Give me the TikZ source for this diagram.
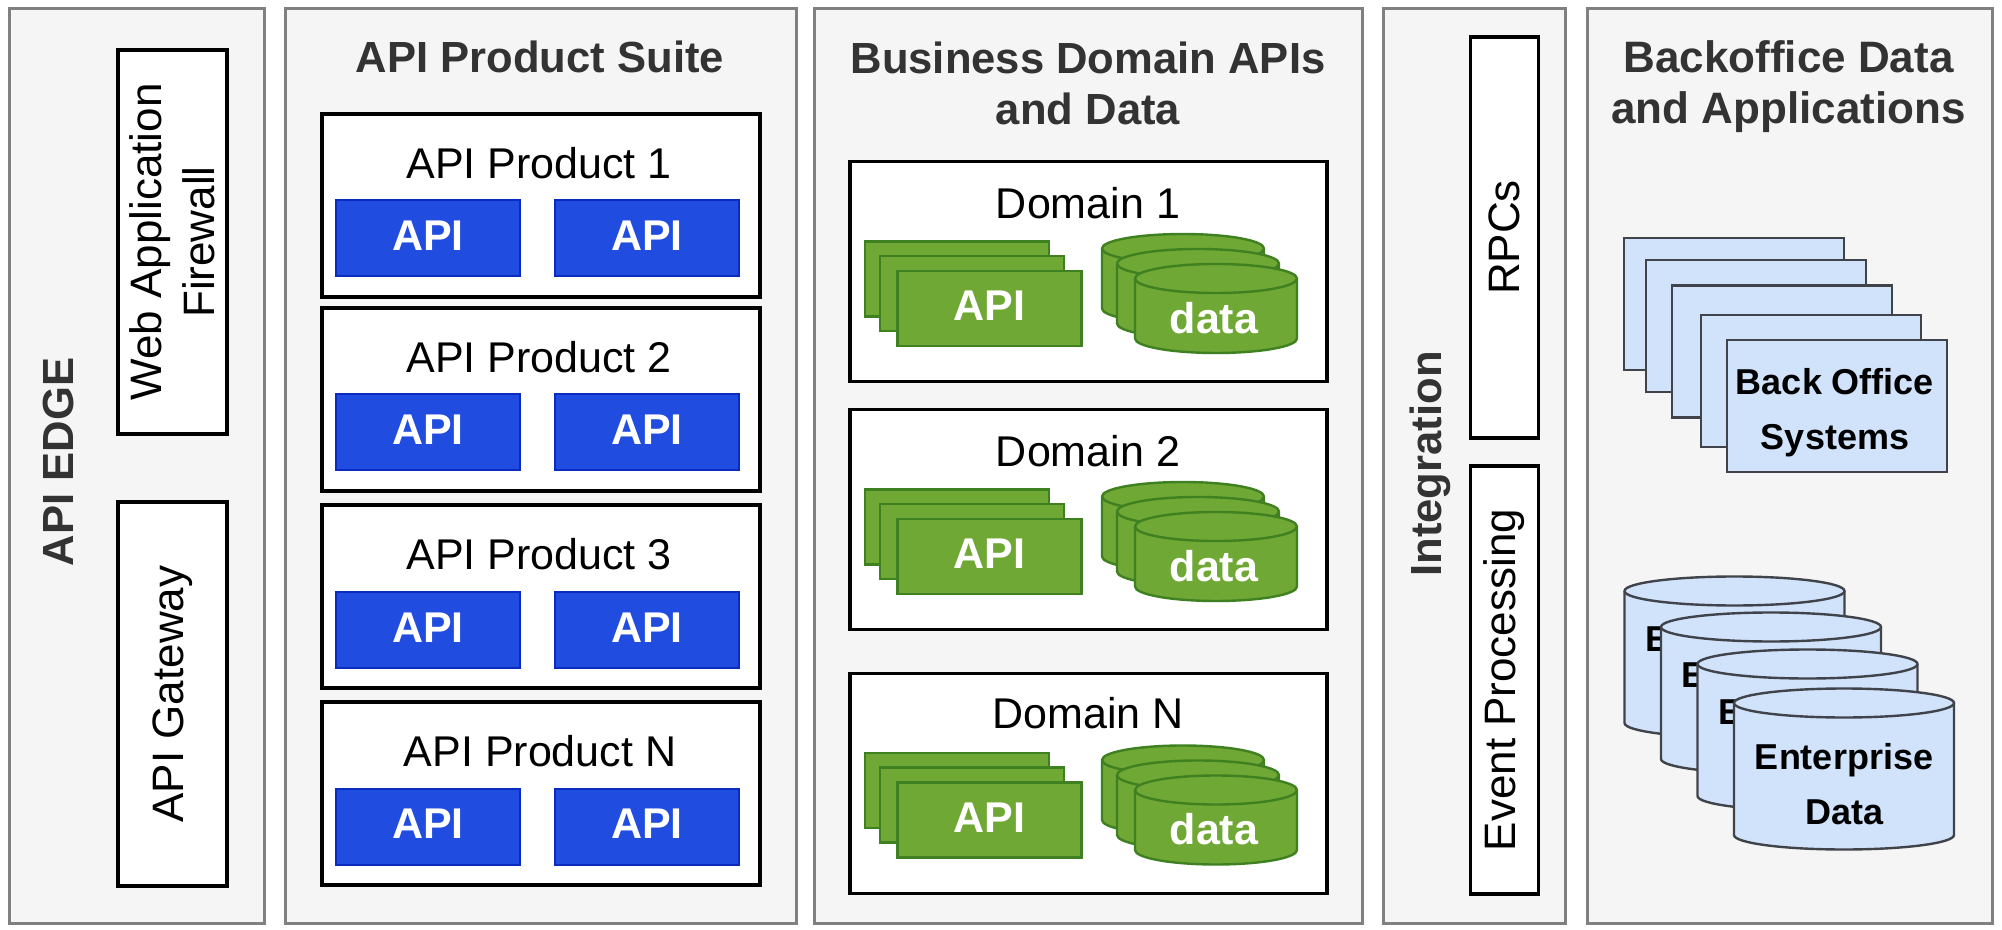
\documentclass[tikz,border=0pt]{standalone}
\usepackage{fontspec}
\setmainfont{Liberation Sans}
\definecolor{panelfill}{HTML}{F5F5F5}
\definecolor{panelline}{HTML}{808080}
\definecolor{titletext}{HTML}{333333}
\definecolor{apifill}{HTML}{204CE0}
\definecolor{apiline}{HTML}{0A2BC0}
\definecolor{greenfill}{HTML}{70A836}
\definecolor{greenline}{HTML}{3F8020}
\definecolor{backfill}{HTML}{D0E3FB}
\definecolor{backline}{HTML}{40444A}
% cylinder: name, position, size style, line style, x radius
\newcommand{\drum}[5]{%
  \node[#3] (#1) at (#2) {};
  \draw[#4] ([yshift=-7.25pt]#1.north west) -- ([yshift=7.25pt]#1.south west)
    arc[start angle=180,end angle=360,x radius=#5,y radius=7.25pt]
    -- ([yshift=-7.25pt]#1.north east)
    arc[start angle=0,end angle=180,x radius=#5,y radius=7.25pt] -- cycle;
  \draw[#4] ([yshift=-7.25pt]#1.north west)
    arc[start angle=180,end angle=360,x radius=#5,y radius=7.25pt];
}
\newcommand{\gdrum}[2]{\drum{#1}{#2}{gbox}{gdata}{40.5pt}}
\newcommand{\bdrum}[2]{\drum{#1}{#2}{bbox}{bdata}{55pt}}
\begin{document}
\begin{tikzpicture}[
        x=0.5pt,y=-0.5pt,
        every node/.style={inner sep=0pt,outer sep=0pt,font=\fontsize{21.5}{25.5}\selectfont},
        panel/.style={draw=panelline,fill=panelfill,line width=1.5pt,rectangle,minimum height=457pt},
        title/.style={text=titletext,font=\fontsize{21.8}{25.5}\selectfont\bfseries,align=center},
        norm/.style={draw=black,fill=white,line width=1.6pt,rectangle,align=center},
        side/.style={norm,rotate=90,font=\fontsize{22}{26.5}\selectfont},
        prod/.style={norm,minimum width=219pt,minimum height=91.5pt},
        dom/.style={norm,minimum width=238.5pt,minimum height=110pt},
        api/.style={draw=apiline,fill=apifill,line width=1pt,rectangle,minimum width=92pt,minimum height=38pt,text=white,text depth=2.5pt,font=\fontsize{21.5}{25.5}\selectfont\bfseries},
        gapi/.style={draw=greenline,fill=greenfill,line width=1.2pt,rectangle,minimum width=92pt,minimum height=37.5pt,text=white,text depth=2.5pt,font=\fontsize{21.5}{25.5}\selectfont\bfseries},
        gbox/.style={rectangle,minimum width=81pt,minimum height=44.5pt},
        gdata/.style={draw=greenline,fill=greenfill,line width=1.2pt},
        wtext/.style={text=white,font=\fontsize{21.5}{25.5}\selectfont\bfseries},
        bsys/.style={draw=backline,fill=backfill,line width=1.2pt,rectangle,minimum width=110pt,minimum height=66pt},
        bbox/.style={rectangle,minimum width=110pt,minimum height=80.5pt},
        bdata/.style={draw=backline,fill=backfill,line width=1.2pt},
        btext/.style={align=center,font=\fontsize{18}{27.5}\selectfont\bfseries}
      ]
      \useasboundingbox (0,0) rectangle (2002,930);
      % columns
      \node[panel,minimum width=127.5pt] (edge) at (136.5,466) {};
      \node[panel,minimum width=255.5pt] (suite) at (540.5,466) {};
      \node[panel,minimum width=274pt] (biz) at (1088,466) {};
      \node[panel,minimum width=91.25pt] (integ) at (1474.25,466) {};
      \node[panel,minimum width=202.6pt] (back) at (1790,466) {};
      % titles
      \node[title,rotate=90] (edget) at (58,462) {API EDGE};
      \node[title] (suitet) at (540,57) {API Product Suite};
      \node[title] (bizt) at (1088,83) {Business Domain APIs\\and Data};
      \node[title,rotate=90] (integt) at (1430,464) {Integration};
      \node[title,font=\fontsize{22}{25.5}\selectfont\bfseries] (backt) at (1788.5,87) {Backoffice Data\\and Applications};
      % edge
      \node[side,minimum width=192pt,minimum height=54.5pt] (waf) at (172.5,242) {Web Application\\Firewall};
      \node[side,minimum width=192pt,minimum height=54.5pt] (gw) at (172.5,694) {API Gateway};
      % products
      \node[prod] (p1) at (541,205.5) {};
      \node[prod] (p2) at (541,399.5) {};
      \node[prod] (p3) at (541,596.5) {};
      \node[prod] (pn) at (541,793.5) {};
      \node (p1t) at (539,163) {API Product 1};
      \node (p2t) at (539,357) {API Product 2};
      \node (p3t) at (539,554) {API Product 3};
      \node (pnt) at (540,751.5) {API Product N};
      \node[api] (a1a) at (428,238.5) {API};
      \node[api] (a1b) at (647,238.5) {API};
      \node[api] (a2a) at (428,432) {API};
      \node[api] (a2b) at (647,432) {API};
      \node[api] (a3a) at (428,630) {API};
      \node[api] (a3b) at (647,630) {API};
      \node[api] (ana) at (428,826.5) {API};
      \node[api] (anb) at (647,826.5) {API};
      % domains
      \node[dom] (d1) at (1088.5,271.5) {};
      \node[dom] (d2) at (1088.5,519.5) {};
      \node[dom] (dn) at (1088.5,783.5) {};
      \node (d1t) at (1088,203) {Domain 1};
      \node (d2t) at (1088,451) {Domain 2};
      \node (dnt) at (1088,713.5) {Domain N};
      \node[gapi] (g1a) at (957,279) {};
      \node[gapi] (g1b) at (972,293.5) {};
      \node[gapi] (g1c) at (989.5,308.5) {API};
      \node[gapi] (g2a) at (957,527) {};
      \node[gapi] (g2b) at (972,541.5) {};
      \node[gapi] (g2c) at (989.5,556.5) {API};
      \node[gapi] (gna) at (957,790.5) {};
      \node[gapi] (gnb) at (972,805) {};
      \node[gapi] (gnc) at (989.5,820) {API};
      \gdrum{c1a}{1183,278.5}
      \gdrum{c1b}{1198,293.5}
      \gdrum{c1c}{1216,308.5}
      \node[wtext] (c1t) at (1214,318.5) {data};
      \gdrum{c2a}{1183,526.5}
      \gdrum{c2b}{1198,541.5}
      \gdrum{c2c}{1216,556.5}
      \node[wtext] (c2t) at (1214,566.5) {data};
      \gdrum{cna}{1183,790}
      \gdrum{cnb}{1198,805}
      \gdrum{cnc}{1216,820}
      \node[wtext] (cnt) at (1214,829.5) {data};
      % integration
      \node[side,minimum width=200.5pt,minimum height=34pt] (rpc) at (1504.5,237.5) {RPCs};
      \node[side,minimum width=214pt,minimum height=34pt] (ev) at (1504.5,680) {Event Processing};
      % backoffice
      \node[bsys] (s1) at (1734,304) {};
      \node[bsys] (s2) at (1756,326) {};
      \node[bsys] (s3) at (1782,351.5) {};
      \node[bsys] (s4) at (1811,381) {};
      \node[bsys] (s5) at (1837,406) {};
      \node[btext] (s5t) at (1835,412.5) {Back Office\\Systems};
      \bdrum{e1}{1734.5,657}
      \node[btext] (e1x) at (1734.5,666) {Enterprise\\Data};
      \bdrum{e2}{1771,693}
      \node[btext] (e2x) at (1771,702) {Enterprise\\Data};
      \bdrum{e3}{1807.5,730}
      \node[btext] (e3x) at (1807.5,739) {Enterprise\\Data};
      \bdrum{e4}{1844,769}
      \node[btext] (e4x) at (1844,784) {Enterprise\\Data};
    \end{tikzpicture}
\end{document}
